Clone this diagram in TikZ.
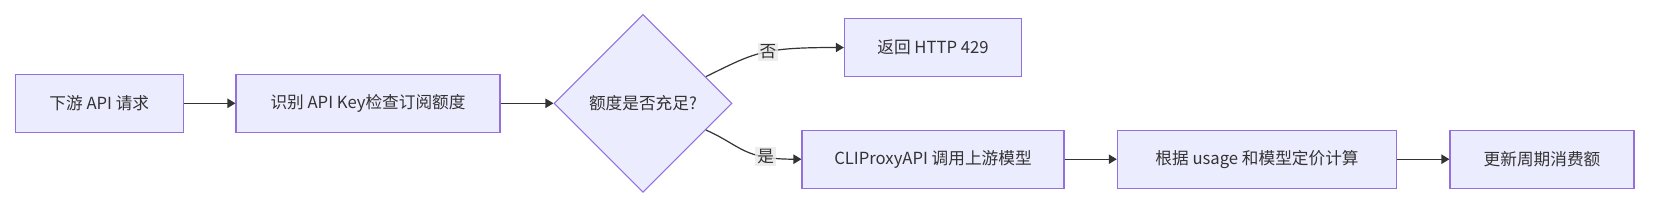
\documentclass[tikz,border=0pt]{standalone}
\usepackage{fontspec}
\setmainfont{Noto Sans CJK SC}
\usetikzlibrary{shapes.geometric, arrows.meta, positioning}
\definecolor{nodefill}{HTML}{ECECFF}
\definecolor{nodeline}{HTML}{9370DB}
\definecolor{edgeline}{HTML}{333333}
\definecolor{lblfill}{HTML}{E8E8E8}

\begin{document}
\begin{tikzpicture}[x=0.75pt, y=-0.75pt,
    box/.style={draw=nodeline, fill=nodefill, rectangle, minimum height=43.5pt, inner sep=0pt, align=center, line width=0.8pt, text=edgeline, font=\fontsize{12.5}{14}\selectfont},
    decision/.style={draw=nodeline, fill=nodefill, diamond, minimum width=133.5pt, minimum height=133.5pt, inner sep=0pt, align=center, line width=0.8pt, text=edgeline, font=\fontsize{12.5}{14}\selectfont},
    arrow/.style={-{Triangle[length=6pt, width=7pt]}, draw=edgeline, line width=0.9pt},
    lbl/.style={fill=lblfill, fill opacity=0.8, text opacity=1, inner sep=1.5pt, text=edgeline, font=\fontsize{12.5}{14}\selectfont}
]
\useasboundingbox (0,0) rectangle (1656,208);

% Nodes
\node [box, minimum width=126pt] (req) at (99.3,103.3) {下游 API 请求};
\node [box, minimum width=198pt] (check) at (368,103.3) {识别 API Key检查订阅额度};
\node [decision] (enough) at (643,103.3) {额度是否充足?};
\node [box, minimum width=133pt] (reject) at (933,47.5) {返回 HTTP 429};
\node [box, minimum width=196.5pt] (call) at (933,159.2) {CLIProxyAPI 调用上游模型};
\node [box, minimum width=209.5pt] (cost) at (1257,159.2) {根据 usage 和模型定价计算};
\node [box, minimum width=138pt] (update) at (1542,159.2) {更新周期消费额};

% Arrows
\draw [arrow] (req) -- (check);
\draw [arrow] (check) -- (enough);
\draw [arrow] (enough.23) to[out=26, in=180, in looseness=1.5] node[lbl, pos=0.55] {否} (reject.west);
\draw [arrow] (enough.-23) to[out=-24, in=180, in looseness=1.5] node[lbl, pos=0.74] {是} (call.west);
\draw [arrow] (call) -- (cost);
\draw [arrow] (cost) -- (update);

\end{tikzpicture}
\end{document}
